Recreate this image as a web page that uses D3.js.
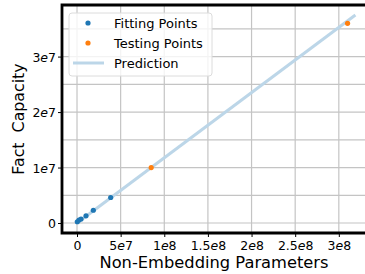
<!DOCTYPE html>
<meta charset="utf-8">
<script src="https://d3js.org/d3.v7.min.js"></script>
<style>
  body { margin: 0; background: #fff; }
  text { font-family: "DejaVu Sans", sans-serif; fill: #000; }
</style>
<div id="my_dataviz"></div>
<script>

// fitting points (params, capacity)
var fitX = [3.4e5, 2.3e6, 4.6e6, 1.03e7, 1.87e7, 3.86e7];
var fitY = [2.3e5, 5.4e5, 7.2e5, 1.3e6, 2.3e6, 4.6e6];

// testing points
var testX = [8.5e7, 3.1e8];
var testY = [1.0e7, 3.6e7];

// prediction line end points
var predX = [0, 3.19e8];
var predY = [0, 3.75e7];

// tick labels
var xTicks = [0, 5e7, 1e8, 1.5e8, 2e8, 2.5e8, 3e8];
var xTickLabels = [["0"], ["5", "7"], ["1", "8"], ["1.5", "8"], ["2", "8"], ["2.5", "8"], ["3", "8"]];
var yTicks = [0, 1e7, 2e7, 3e7];
var yTickLabels = [["0"], ["1", "7"], ["2", "7"], ["3", "7"]];
var yGrid = [0, 5e6, 1e7, 1.5e7, 2e7, 2.5e7, 3e7, 3.5e7];

var legendItems = ["Fitting Points", "Testing Points", "Prediction"];

var W = 365, H = 274;
var mLeft = 62, mTop = 5, mBottom = 233;

var svg = d3.select("#my_dataviz")
  .append("svg")
    .attr("width", W)
    .attr("height", H);

var x = d3.scaleLinear()
  .domain([-1.72e7, 3.3e8])
  .range([mLeft, W]);

var y = d3.scaleLinear()
  .domain([-1.8e6, 3.93e7])
  .range([mBottom, mTop]);

// grid
svg.append("g").selectAll("line")
  .data(xTicks).enter().append("line")
    .attr("x1", d => x(d)).attr("x2", d => x(d))
    .attr("y1", mTop).attr("y2", mBottom)
    .attr("stroke", "#c4c4c4").attr("stroke-width", 1.2);
svg.append("g").selectAll("line")
  .data(yGrid).enter().append("line")
    .attr("x1", mLeft).attr("x2", W)
    .attr("y1", d => y(d)).attr("y2", d => y(d))
    .attr("stroke", "#c4c4c4").attr("stroke-width", 1.2);

// prediction line
var line = d3.line()
  .x(function(d, i) { return x(predX[i]); })
  .y(function(d, i) { return y(predY[i]); });
svg.append("path")
  .datum(predX)
  .attr("d", line)
  .attr("fill", "none")
  .attr("stroke", "#bcd6e8")
  .attr("stroke-width", 3);

// points
svg.append("g").selectAll("circle")
  .data(fitX).enter().append("circle")
    .attr("cx", d => x(d))
    .attr("cy", (d, i) => y(fitY[i]))
    .attr("r", 2.6)
    .attr("fill", "#1f77b4");
svg.append("g").selectAll("circle")
  .data(testX).enter().append("circle")
    .attr("cx", d => x(d))
    .attr("cy", (d, i) => y(testY[i]))
    .attr("r", 2.6)
    .attr("fill", "#ff7f0e");

// axes
function sciLabel(sel, parts) {
  sel.append("tspan").text(parts[0]);
  if (parts.length > 1) {
    sel.append("tspan").attr("font-style", "italic").text("e");
    sel.append("tspan").text(parts[1]);
  }
}

var xAxis = d3.axisBottom(x).tickValues(xTicks).tickSize(4).tickFormat("");
var gx = svg.append("g")
  .attr("transform", "translate(0," + mBottom + ")")
  .call(xAxis);
gx.select(".domain").remove();
gx.selectAll(".tick line").attr("stroke", "#000").attr("stroke-width", 1);
gx.selectAll(".tick text").remove();
gx.selectAll(".tick").append("text")
  .attr("y", 16.5)
  .attr("text-anchor", "middle")
  .style("font-size", "12.5px")
  .each(function(d, i) { sciLabel(d3.select(this), xTickLabels[i]); });

var yAxis = d3.axisLeft(y).tickValues(yTicks).tickSize(4).tickFormat("");
var gy = svg.append("g")
  .attr("transform", "translate(" + mLeft + ",0)")
  .call(yAxis);
gy.select(".domain").remove();
gy.selectAll(".tick line").attr("stroke", "#000").attr("stroke-width", 1);
gy.selectAll(".tick text").remove();
gy.selectAll(".tick").append("text")
  .attr("x", -6)
  .attr("dy", "0.36em")
  .attr("text-anchor", "end")
  .style("font-size", "12.5px")
  .each(function(d, i) { sciLabel(d3.select(this), yTickLabels[i]); });

// spines
svg.append("path")
  .attr("d", "M" + W + "," + mTop + "H" + mLeft + "V" + mBottom + "H" + W)
  .attr("fill", "none")
  .attr("stroke", "#000")
  .attr("stroke-width", 2.8);

// axis labels
svg.append("text")
  .attr("x", 214).attr("y", 268)
  .attr("text-anchor", "middle")
  .style("font-size", "16.3px")
  .text("Non-Embedding Parameters");
svg.append("text")
  .attr("transform", "translate(24,119) rotate(-90)")
  .attr("text-anchor", "middle")
  .style("font-size", "15.8px")
  .style("white-space", "pre")
  .text("Fact  Capacity");

// legend
var lg = svg.append("g");
lg.append("rect")
  .attr("x", 69).attr("y", 13)
  .attr("width", 143).attr("height", 63)
  .attr("rx", 3)
  .attr("fill", "rgba(255,255,255,0.8)")
  .attr("stroke", "#dcdcdc");
var colors = ["#1f77b4", "#ff7f0e", "#bcd6e8"];
legendItems.forEach(function(name, i) {
  var cy = 23 + i * 20;
  if (i < 2) {
    lg.append("circle").attr("cx", 88).attr("cy", cy).attr("r", 2.6).attr("fill", colors[i]);
  } else {
    lg.append("line").attr("x1", 73).attr("x2", 104).attr("y1", cy).attr("y2", cy)
      .attr("stroke", colors[i]).attr("stroke-width", 3);
  }
  lg.append("text")
    .attr("x", 114).attr("y", cy).attr("dy", "0.36em")
    .style("font-size", "13px")
    .text(name);
});

</script>
